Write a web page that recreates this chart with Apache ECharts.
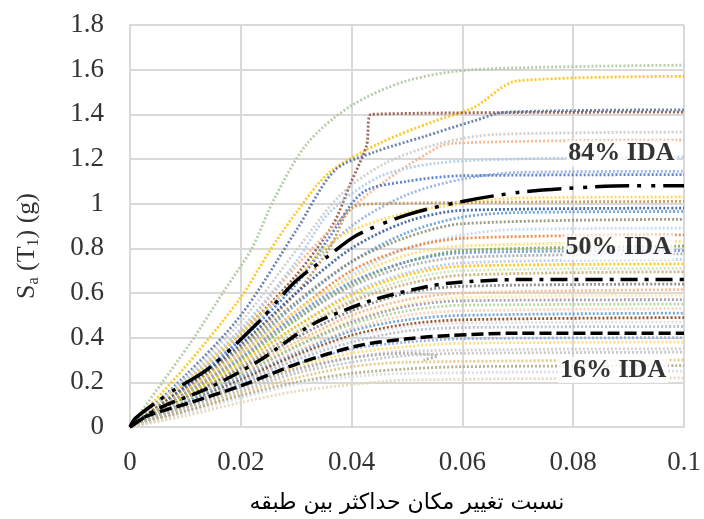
<!DOCTYPE html>
<html>
<head>
<meta charset="utf-8">
<script src="https://cdn.jsdelivr.net/npm/echarts@6/dist/echarts.min.js"></script>
<style>
  html, body { margin: 0; padding: 0; background: #fff; }
  #chart { width: 704px; height: 519px; }
</style>
</head>
<body>
<div id="chart"></div>
<script>
// Axis ticks
const xTicks = [0, 0.02, 0.04, 0.06, 0.08, 0.1];
const yTicks = [0, 0.2, 0.4, 0.6, 0.8, 1, 1.2, 1.4, 1.6, 1.8];

// Individual IDA curves: [max interstory drift ratio, Sa(T1) in g]
const upperRecords = [
  [[0,0],[0.011,0.38],[0.017,0.61],[0.022,0.8],[0.026,1.02],[0.032,1.27],[0.04,1.44],[0.05,1.55],[0.062,1.6],[0.1,1.62]],
  [[0,0],[0.01,0.27],[0.02,0.58],[0.025,0.78],[0.03,0.96],[0.036,1.14],[0.045,1.27],[0.055,1.37],[0.062,1.43],[0.07,1.55],[0.1,1.57]],
  [[0,0],[0.01,0.2],[0.02,0.42],[0.03,0.68],[0.0367,0.91],[0.0397,1.085],[0.0427,1.26],[0.0435,1.4],[0.1,1.41]],
  [[0,0],[0.01,0.23],[0.02,0.5],[0.03,0.88],[0.037,1.15],[0.044,1.23],[0.053,1.3],[0.062,1.37],[0.068,1.41],[0.1,1.42]],
  [[0,0],[0.01,0.22],[0.02,0.47],[0.03,0.79],[0.038,1.04],[0.046,1.18],[0.056,1.27],[0.066,1.31],[0.1,1.32]],
  [[0,0],[0.01,0.2],[0.02,0.43],[0.03,0.72],[0.04,0.98],[0.046,1.1],[0.052,1.2],[0.058,1.27],[0.1,1.285]],
  [[0,0],[0.01,0.21],[0.02,0.44],[0.03,0.74],[0.036,0.96],[0.045,1.12],[0.055,1.18],[0.07,1.2],[0.1,1.21]],
  [[0,0],[0.01,0.19],[0.02,0.4],[0.03,0.66],[0.04,0.9],[0.05,1.04],[0.06,1.11],[0.07,1.14],[0.1,1.145]],
  [[0,0],[0.01,0.18],[0.02,0.39],[0.03,0.64],[0.036,0.85],[0.042,1.05],[0.05,1.1],[0.06,1.125],[0.1,1.13]],
  [[0,0],[0.01,0.2],[0.02,0.42],[0.03,0.66],[0.035,0.8],[0.04,0.88],[0.05,0.96],[0.06,1.0],[0.07,1.025],[0.1,1.03]],
  [[0,0],[0.01,0.17],[0.02,0.36],[0.03,0.6],[0.036,0.8],[0.04,0.98],[0.045,1.0],[0.1,1.01]],
  [[0,0],[0.01,0.18],[0.02,0.37],[0.03,0.6],[0.04,0.8],[0.05,0.92],[0.06,0.97],[0.1,0.98]],
  [[0,0],[0.01,0.16],[0.02,0.33],[0.03,0.55],[0.04,0.74],[0.05,0.87],[0.06,0.94],[0.07,0.96],[0.1,0.965]],
  [[0,0],[0.01,0.17],[0.02,0.35],[0.03,0.56],[0.04,0.74],[0.05,0.85],[0.06,0.91],[0.1,0.93]]
];
const upperColors = ['#a9c49a','#ffc000','#8b4a3c','#5470a0','#c8c8c8','#f4b183','#a9c9ea',
                     '#8faadc','#4472c4','#ffd54f','#c0904d','#2f5597','#5b9bd5','#8c8c6e'];

const middleRecords = [
  [[0,0],[0.01,0.15],[0.02,0.32],[0.03,0.5],[0.04,0.68],[0.05,0.8],[0.06,0.86],[0.07,0.885],[0.1,0.89]],
  [[0,0],[0.01,0.16],[0.02,0.33],[0.03,0.52],[0.04,0.7],[0.05,0.8],[0.06,0.845],[0.1,0.86]],
  [[0,0],[0.01,0.16],[0.02,0.33],[0.03,0.52],[0.04,0.67],[0.05,0.77],[0.06,0.81],[0.1,0.83]],
  [[0,0],[0.01,0.14],[0.02,0.3],[0.03,0.48],[0.04,0.64],[0.05,0.74],[0.06,0.79],[0.1,0.81]],
  [[0,0],[0.01,0.15],[0.02,0.31],[0.03,0.5],[0.04,0.65],[0.05,0.74],[0.06,0.78],[0.1,0.79]],
  [[0,0],[0.01,0.15],[0.02,0.31],[0.03,0.49],[0.04,0.63],[0.05,0.72],[0.06,0.76],[0.1,0.775]],
  [[0,0],[0.01,0.13],[0.02,0.28],[0.03,0.45],[0.04,0.6],[0.05,0.69],[0.06,0.735],[0.1,0.75]],
  [[0,0],[0.01,0.14],[0.02,0.29],[0.03,0.45],[0.04,0.59],[0.05,0.68],[0.06,0.72],[0.1,0.73]],
  [[0,0],[0.01,0.13],[0.02,0.27],[0.03,0.43],[0.04,0.57],[0.05,0.66],[0.06,0.7],[0.1,0.71]],
  [[0,0],[0.01,0.13],[0.02,0.27],[0.03,0.42],[0.04,0.56],[0.05,0.64],[0.06,0.68],[0.1,0.695]],
  [[0,0],[0.01,0.13],[0.02,0.26],[0.03,0.4],[0.04,0.52],[0.05,0.6],[0.06,0.63],[0.1,0.64]],
  [[0,0],[0.01,0.12],[0.02,0.25],[0.03,0.38],[0.04,0.5],[0.05,0.57],[0.06,0.6],[0.1,0.615]],
  [[0,0],[0.01,0.12],[0.02,0.24],[0.03,0.37],[0.04,0.48],[0.05,0.55],[0.06,0.58],[0.1,0.59]],
  [[0,0],[0.01,0.11],[0.02,0.23],[0.03,0.36],[0.04,0.47],[0.05,0.54],[0.06,0.565],[0.1,0.57]],
  [[0,0],[0.01,0.12],[0.02,0.24],[0.03,0.36],[0.04,0.46],[0.05,0.52],[0.06,0.545],[0.1,0.55]]
];
const middleColors = ['#bdd7ee','#ed7d31','#ffd966','#70ad47','#698ed0','#a5a5a5','#b4c7e7',
                      '#ffc000','#c5e0b4','#c9a66b','#7f7f7f','#f4b183','#ffe699','#9a8fb0','#a9d18e'];

const lowerRecords = [
  [[0,0],[0.01,0.11],[0.02,0.22],[0.03,0.34],[0.04,0.44],[0.05,0.5],[0.06,0.52],[0.1,0.53]],
  [[0,0],[0.01,0.11],[0.02,0.22],[0.03,0.33],[0.04,0.43],[0.05,0.48],[0.06,0.5],[0.1,0.51]],
  [[0,0],[0.01,0.1],[0.02,0.21],[0.03,0.32],[0.04,0.41],[0.05,0.46],[0.06,0.48],[0.1,0.49]],
  [[0,0],[0.01,0.1],[0.02,0.2],[0.03,0.31],[0.04,0.4],[0.05,0.45],[0.06,0.465],[0.1,0.47]],
  [[0,0],[0.01,0.1],[0.02,0.2],[0.03,0.3],[0.04,0.38],[0.05,0.43],[0.06,0.445],[0.1,0.45]],
  [[0,0],[0.01,0.09],[0.02,0.19],[0.03,0.28],[0.04,0.35],[0.05,0.38],[0.06,0.395],[0.1,0.4]],
  [[0,0],[0.01,0.09],[0.02,0.18],[0.03,0.27],[0.04,0.33],[0.05,0.36],[0.06,0.375],[0.1,0.38]],
  [[0,0],[0.01,0.08],[0.02,0.17],[0.03,0.25],[0.04,0.31],[0.05,0.34],[0.1,0.35]],
  [[0,0],[0.01,0.09],[0.02,0.18],[0.03,0.26],[0.04,0.31],[0.05,0.33],[0.0555,0.318],[0.053,0.3]],
  [[0,0],[0.01,0.08],[0.02,0.16],[0.03,0.24],[0.04,0.29],[0.05,0.32],[0.06,0.33],[0.1,0.335]],
  [[0,0],[0.01,0.07],[0.02,0.15],[0.03,0.22],[0.04,0.27],[0.05,0.29],[0.1,0.3]],
  [[0,0],[0.01,0.07],[0.02,0.14],[0.03,0.2],[0.04,0.24],[0.05,0.26],[0.06,0.27],[0.1,0.275]],
  [[0,0],[0.01,0.06],[0.02,0.13],[0.03,0.19],[0.04,0.225],[0.05,0.24],[0.1,0.25]],
  [[0,0],[0.01,0.05],[0.02,0.11],[0.03,0.16],[0.04,0.19],[0.05,0.21],[0.1,0.22]]
];
const lowerColors = ['#f8cbad','#5b9bd5','#843c0c','#dbdbdb','#adb9ca','#8faadc','#ffd966',
                     '#c9c9c9','#a5a5a5','#bfbfbf','#e2c17c','#a9a57c','#d6dce5','#e2d4b5'];

// Fractile curves
const ida84 = [[0,0],[0.001,0.04],[0.0076,0.16],[0.0141,0.26],[0.0232,0.47],[0.0298,0.65],[0.0355,0.76],[0.041,0.86],[0.05,0.95],[0.06,1.01],[0.07,1.05],[0.08,1.07],[0.09,1.08],[0.1,1.08]];
const ida50 = [[0,0],[0.0052,0.083],[0.0142,0.175],[0.0232,0.295],[0.031,0.43],[0.035,0.485],[0.044,0.57],[0.0535,0.628],[0.058,0.645],[0.07,0.66],[0.1,0.66]];
const ida16 = [[0,0],[0.0028,0.046],[0.0112,0.112],[0.0202,0.186],[0.0304,0.285],[0.041,0.363],[0.05,0.395],[0.0578,0.41],[0.07,0.42],[0.1,0.42]];

const fractileLabels = ['84% IDA', '50% IDA', '16% IDA'];
const labelAnchors = [[0.0887, 1.225], [0.0882, 0.805], [0.0872, 0.255]];

const chart = echarts.init(document.getElementById('chart'));

const recordSeries = [];
function addRecords(list, colors) {
  list.forEach((pts, i) => {
    recordSeries.push({
      type: 'line', data: pts, showSymbol: false, smooth: 0.3, silent: true,
      lineStyle: { color: colors[i % colors.length], width: 2.8, type: [2, 2], opacity: 0.85 },
      z: 2
    });
  });
}
addRecords(upperRecords, upperColors);
addRecords(middleRecords, middleColors);
addRecords(lowerRecords, lowerColors);

function fractile(data, dash) {
  return {
    type: 'line', data, showSymbol: false, smooth: 0.3, silent: true,
    lineStyle: { color: '#000', width: 3.5, type: dash, cap: 'butt' }, z: 5
  };
}

const labelSeries = {
  type: 'scatter', symbolSize: 0, silent: true, z: 8,
  data: labelAnchors.map((p, i) => ({ value: p, name: fractileLabels[i] })),
  label: {
    show: true, position: 'inside', formatter: p => p.name,
    fontFamily: 'Liberation Serif', fontWeight: 'bold', fontSize: 26, color: '#000',
    backgroundColor: '#fff', padding: [0, 2]
  }
};

const serifAxisText = { fontFamily: 'Liberation Serif', fontSize: 27, color: '#333' };

chart.setOption({
  animation: false,
  backgroundColor: '#fff',
  grid: { left: 130, right: 20, top: 25, bottom: 87 },
  graphic: [{
    type: 'text', left: 14, top: 193, rotation: Math.PI / 2, silent: true,
    style: {
      text: '{n|S}{s|a}{n| (T}{s|1}{n|) (g)}',
      rich: {
        n: { fontFamily: 'Liberation Serif', fontSize: 26, fill: '#333', lineHeight: 30, verticalAlign: 'middle' },
        s: { fontFamily: 'Liberation Serif', fontSize: 16, fill: '#333', lineHeight: 30, verticalAlign: 'bottom', padding: [12, 0, 0, 0] }
      }
    }
  }],
  xAxis: {
    type: 'value', min: xTicks[0], max: xTicks[xTicks.length - 1], interval: 0.02,
    axisLine: { show: true, lineStyle: { color: '#d9d9d9', width: 2 } },
    axisTick: { show: false },
    splitLine: { show: true, lineStyle: { color: '#d9d9d9', width: 2 } },
    axisLabel: Object.assign({ margin: 22 }, serifAxisText),
    name: 'نسبت تغییر مکان حداکثر بین طبقه',
    nameLocation: 'middle', nameGap: 65,
    nameTextStyle: { fontFamily: 'DejaVu Sans', fontSize: 22, color: '#000' }
  },
  yAxis: {
    type: 'value', min: yTicks[0], max: yTicks[yTicks.length - 1], interval: 0.2,
    axisLine: { show: true, lineStyle: { color: '#d9d9d9', width: 2 } },
    axisTick: { show: false },
    splitLine: { show: true, lineStyle: { color: '#d9d9d9', width: 2 } },
    axisLabel: Object.assign({ margin: 26 }, serifAxisText)
  },
  series: recordSeries.concat([
    fractile(ida16, [12, 5]),
    fractile(ida50, [17, 7, 4, 7]),
    fractile(ida84, [34, 8, 4, 10, 4, 8]),
    labelSeries
  ])
});
</script>
</body>
</html>
